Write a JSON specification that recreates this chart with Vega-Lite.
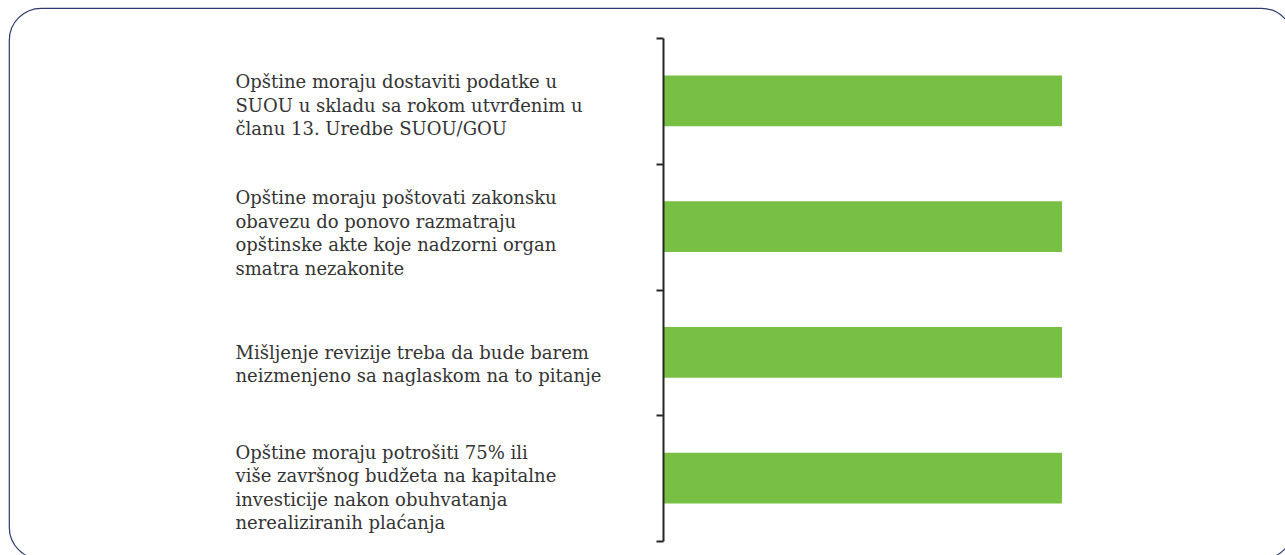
{
  "$schema": "https://vega.github.io/schema/vega-lite/v6.json",
  "width": 1284,
  "height": 551,
  "autosize": "none",
  "padding": {"left": 9, "top": 8, "right": 0, "bottom": 0},
  "background": "white",
  "view": {"stroke": "#2c3a6b", "strokeWidth": 1.2, "cornerRadius": 32, "fill": "white"},
  "data": {
    "values": [
      {"kriterijum": "Opštine moraju dostaviti podatke u|SUOU u skladu sa rokom utvrđenim u|članu 13. Uredbe SUOU/GOU", "vrednost": 100},
      {"kriterijum": "Opštine moraju poštovati zakonsku|obavezu do ponovo razmatraju|opštinske akte koje nadzorni organ|smatra nezakonite", "vrednost": 100},
      {"kriterijum": "Mišljenje revizije treba da bude barem|neizmenjeno sa naglaskom na to pitanje", "vrednost": 100},
      {"kriterijum": "Opštine moraju potrošiti 75% ili|više završnog budžeta na kapitalne|investicije nakon obuhvatanja|nerealiziranih plaćanja", "vrednost": 100}
    ]
  },
  "mark": {"type": "bar", "color": "#78c043", "height": {"band": 0.405}},
  "encoding": {
    "y": {
      "field": "kriterijum",
      "type": "nominal",
      "sort": null,
      "scale": {"range": [30, 533], "paddingInner": 0, "paddingOuter": 0},
      "axis": {
        "title": null,
        "offset": -654,
        "zindex": 1,
        "domainColor": "#262626",
        "domainWidth": 2,
        "tickColor": "#262626",
        "tickWidth": 2,
        "tickSize": 7,
        "tickBand": "extent",
        "labelAlign": "left",
        "labelPadding": 421,
        "labelExpr": "split(datum.label, '|')",
        "labelFont": "DejaVu Serif",
        "labelFontSize": 18,
        "labelColor": "#333333",
        "labelLineHeight": 23.5,
        "labelLimit": 0,
        "labelOverlap": false,
        "labelBaseline": "middle",
        "labelOffset": {
          "condition": [
            {"test": "indexof(datum.label, '75%') >= 0", "value": -25},
            {"test": "length(split(datum.label, '|')) == 4", "value": -28},
            {"test": "length(split(datum.label, '|')) == 3", "value": -18}
          ],
          "value": 1
        }
      }
    },
    "x": {
      "field": "vrednost",
      "type": "quantitative",
      "scale": {"domain": [0, 100], "range": [654, 1053]},
      "axis": null
    }
  }
}
